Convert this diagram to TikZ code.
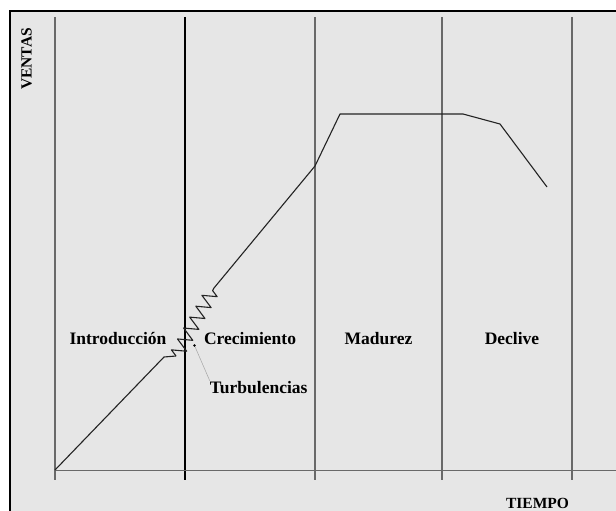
\documentclass[tikz,border=0pt]{standalone}
\usepackage{fontspec}
\setmainfont{Liberation Serif}
\usetikzlibrary{decorations.pathmorphing}
\definecolor{panel}{RGB}{230,230,230}
\definecolor{gridgrey}{RGB}{105,105,105}
\definecolor{curvegrey}{RGB}{35,35,35}
\definecolor{leadgrey}{RGB}{165,165,165}
\begin{document}
\begin{tikzpicture}[x=1pt,y=-1pt,
  phase/.style={font=\fontsize{17.5}{19}\selectfont\bfseries, inner sep=0pt, anchor=base},
  axislabel/.style={font=\fontsize{15.5}{17}\selectfont\bfseries, inner sep=0pt, anchor=base},
  divider/.style={draw=gridgrey, line width=1.1pt},
  mainline/.style={draw=black, line width=1.7pt},
  salescurve/.style={draw=curvegrey, line width=1.1pt, line join=round},
  spring/.style={salescurve, decorate, decoration={zigzag, segment length=12.5pt, amplitude=7pt}},
  leader/.style={draw=leadgrey, line width=0.5pt}]
\useasboundingbox (0,0) rectangle (616,511);
\fill[white] (0,0) rectangle (616,511);
% panel with frame (open to the right and bottom)
\begin{scope}
  \clip (0,0) rectangle (616,511);
  \draw[fill=panel, line width=1.6pt] (10,11) rectangle (640,540);
\end{scope}

% stage dividers
\coordinate (d0t) at (55,17);  \coordinate (d0b) at (55,480);
\coordinate (d1t) at (185,17); \coordinate (d1b) at (185,480);
\coordinate (d2t) at (315,17); \coordinate (d2b) at (315,480);
\coordinate (d3t) at (442,17); \coordinate (d3b) at (442,480);
\coordinate (d4t) at (572,17); \coordinate (d4b) at (572,480);
\draw[divider] (d0t) -- (d0b);
\draw[mainline] (d1t) -- (d1b);
\draw[divider] (d2t) -- (d2b);
\draw[divider] (d3t) -- (d3b);
\draw[divider] (d4t) -- (d4b);

% time axis
\coordinate (ax0) at (55,470.5);
\coordinate (ax1) at (616,470.5);
\draw[divider] (ax0) -- (ax1);

% sales curve
\coordinate (c0) at (55,470);
\coordinate (c1) at (164,357);
\coordinate (c2) at (176,356);
\coordinate (c3) at (214,288);
\coordinate (c4) at (315,166);
\coordinate (c5) at (340,114);
\coordinate (c6) at (463,114);
\coordinate (c7) at (500,124);
\coordinate (c8) at (547,187);
\draw[salescurve] (c0) -- (c1) -- (c2);
\draw[spring] (c2) -- (c3);
\draw[salescurve] (c3) -- (c4) -- (c5) -- (c6) -- (c7) -- (c8);

% labels
\node[axislabel, rotate=90] (ventas) at (31.5,59) {VENTAS};
\node[axislabel] (tiempo) at (537.5,508) {TIEMPO};
\node[phase] (intro) at (118,344) {Introducción};
\node[phase] (crec) at (250,344) {Crecimiento};
\node[phase] (mad) at (378.5,344) {Madurez};
\node[phase] (decl) at (512,344) {Declive};
\node[phase] (turb) at (258.7,393) {Turbulencias};

% turbulence marker with leader
\node[circle, fill=black, inner sep=0pt, minimum size=2.8pt] (dot) at (194.5,345.5) {};
\draw[leader] (dot) -- (turb.north west);
\end{tikzpicture}
\end{document}
